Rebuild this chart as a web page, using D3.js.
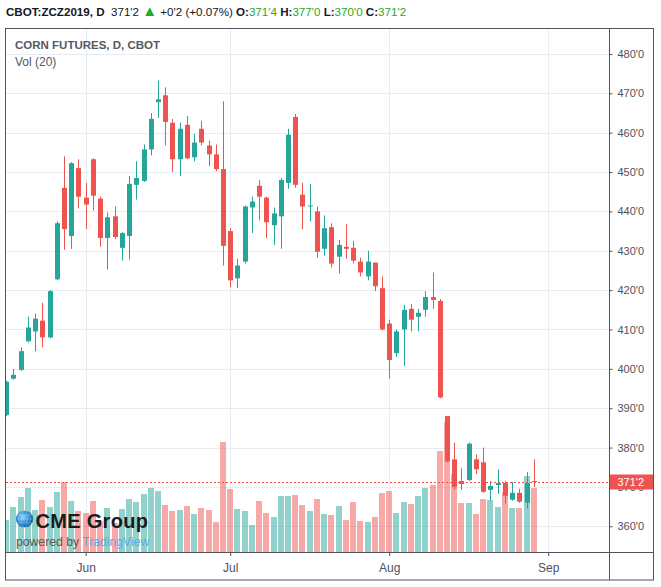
<!DOCTYPE html>
<html>
<head>
<meta charset="utf-8">
<script src="https://cdn.jsdelivr.net/npm/d3@7"></script>
<style>
  body { margin: 0; background: #fff; }
  svg text { font-family: "Liberation Sans", Arial, sans-serif; }
</style>
</head>
<body>
<script>
// trading days shown (CBOT corn Dec 2019, daily)
var dates = [
  "2019-05-16","2019-05-17","2019-05-20","2019-05-21","2019-05-22","2019-05-23","2019-05-24",
  "2019-05-28","2019-05-29","2019-05-30","2019-05-31",
  "2019-06-03","2019-06-04","2019-06-05","2019-06-06","2019-06-07","2019-06-10","2019-06-11",
  "2019-06-12","2019-06-13","2019-06-14","2019-06-17","2019-06-18","2019-06-19","2019-06-20",
  "2019-06-21","2019-06-24","2019-06-25","2019-06-26","2019-06-27","2019-06-28",
  "2019-07-01","2019-07-02","2019-07-03","2019-07-05","2019-07-08","2019-07-09","2019-07-10",
  "2019-07-11","2019-07-12","2019-07-15","2019-07-16","2019-07-17","2019-07-18","2019-07-19",
  "2019-07-22","2019-07-23","2019-07-24","2019-07-25","2019-07-26","2019-07-29","2019-07-30",
  "2019-07-31",
  "2019-08-01","2019-08-02","2019-08-05","2019-08-06","2019-08-07","2019-08-08","2019-08-09",
  "2019-08-12","2019-08-13","2019-08-14","2019-08-15","2019-08-16","2019-08-19","2019-08-20",
  "2019-08-21","2019-08-22","2019-08-23","2019-08-26","2019-08-27","2019-08-28","2019-08-29"
];
// empty slots to the right of the last bar
var futureDates = ["2019-08-30","2019-09-03"];

var open = [388.25,397.5,399.75,407,409.5,412.25,408,422.75,446,433.75,451,443.5,453.25,443.25,
  433.25,438.75,430.75,433.75,446.75,447.75,455.75,467.75,469.5,462.5,453.25,462,453.75,461,
  456.75,454.5,450.75,435,423,427.25,441,446.5,443.5,436.5,438.75,447.25,464,444.25,441.25,440,
  430.5,436,428.5,431,430.75,427.25,423.5,427,420.5,411.5,404,410,415.25,413.25,415,418.25,
  417.25,388,377,371.5,371.75,377,376.25,369.25,370.5,371,366.75,368.5,366,371.5];
var high = [397,400,405.5,413.25,414,416.75,420,437.5,454,452.5,453.25,447.25,453.5,443.75,
  439.75,441.25,434.75,449,452.75,457,465,473.25,471.5,463.5,462.5,464.25,459.75,463,458,457,
  468,435.75,428,441.5,443.75,448,443.75,441,448.5,461,464.75,447.25,447,441.25,439,437,432.75,
  436.75,432.5,428.25,430,427,423.5,412.5,410,416.25,416.5,415.25,419.75,424.5,417.75,388,
  381.25,374.75,381.25,378.25,380,371.5,374.5,371.5,371.25,369.5,373.75,377];
var low = [388,397.25,399.5,406.75,404.5,405.5,407.75,422.5,430.25,430.5,440.75,435.5,440.25,431,
  425.25,433,427.5,427.75,443,447.5,454.25,463.75,456.75,450,449,453.25,452.75,456.75,451.5,
  450.25,426.25,420.75,420.5,426.75,434.5,437.75,433.25,431.5,430.5,445.75,446,435.5,437.5,
  428.25,428.75,425.75,424.25,428,426.75,423.5,422.5,419.75,409.75,397.5,403,400.75,409.5,
  409.5,413.25,415.25,392.5,376.25,369.25,369.25,371.5,373.25,368.5,366.5,368.25,365.75,366.5,
  366,364.5,370];
var close = [396.75,398.5,404.5,410.5,412.75,408,419.75,437,435.5,452.25,443.75,441.75,444,433.25,
  438.5,433.5,434.5,447,448.5,455.75,463.5,468.5,462.75,453.25,461,453.5,457.5,457.5,454.5,
  450.75,431.25,422.5,426.25,441.25,442.5,443.75,437.25,439.5,448,459.5,446.75,441.25,441.5,
  429.75,435.75,426.75,431.5,430.5,427.5,424.5,427.25,421,410,402.25,409.5,415,412.5,414.25,
  418.25,417.5,392.75,376.5,370,370.75,381,374.5,368.75,370.25,371,367.75,368.5,366.25,371,
  371.25];
// volume, thousand contracts
var volume = [96,135,165,192,126,156,135,180,210,153,123,117,153,93,132,87,129,159,150,174,192,
  183,141,123,126,138,114,132,126,90,330,189,129,123,81,153,117,105,168,168,171,141,123,159,114,
  111,138,96,150,93,90,105,177,183,117,150,144,168,192,201,303,390,234,147,147,114,159,156,135,
  180,132,132,228,192];

var monthLabels = ["Jun", "Jul", "Aug", "Sep"];
var monthDates = ["2019-06-03", "2019-07-01", "2019-08-01", "2019-09-03"];
var priceTicks = [360, 370, 380, 390, 400, 410, 420, 430, 440, 450, 460, 470, 480];
var lastPrice = 371.25;

var upColor = "#26a69a", downColor = "#ef5350";
var textColor = "#4c525e", frameColor = "#50535e", gridColor = "#e6edf3";

var width = 661, height = 587;
var plot = {left: 6, top: 28, right: 609.5, bottom: 552};
var frame = {right: 654, bottom: 580};

var allDates = dates.concat(futureDates);

function fmt(v) {
  var whole = Math.floor(v);
  return whole + "'" + Math.round((v - whole) * 8);
}

var svg = d3.select("body").append("svg")
    .attr("width", width)
    .attr("height", height);

// first bar centre and the Sep 3 slot fix the bar spacing
var x = d3.scaleLinear()
    .domain([0, allDates.indexOf("2019-09-03")])
    .range([6.2, 548.2]);

var y = d3.scaleLinear()
    .domain([353.47, 486.6])
    .range([plot.bottom, plot.top]);

var yVol = d3.scaleLinear()
    .domain([0, d3.max(volume)])
    .range([plot.bottom, plot.bottom - (plot.bottom - plot.top) * 0.248]);

var defs = svg.append("defs");
defs.append("clipPath").attr("id", "plotclip")
  .append("rect")
    .attr("x", plot.left).attr("y", plot.top)
    .attr("width", plot.right - plot.left).attr("height", plot.bottom - plot.top);

var grad = defs.append("radialGradient").attr("id", "globe")
    .attr("cx", "40%").attr("cy", "40%").attr("r", "65%");
grad.append("stop").attr("offset", "0%").attr("stop-color", "#8fd6f7");
grad.append("stop").attr("offset", "55%").attr("stop-color", "#2a8fd6");
grad.append("stop").attr("offset", "100%").attr("stop-color", "#0b4f9c");

// grid
var grid = svg.append("g");
grid.selectAll(".hgrid")
    .data(priceTicks)
  .enter().append("line")
    .attr("x1", plot.left).attr("x2", plot.right)
    .attr("y1", function(d) { return Math.round(y(d)) + 0.5; })
    .attr("y2", function(d) { return Math.round(y(d)) + 0.5; })
    .attr("stroke", gridColor);

var monthIdx = monthDates.map(function(d) { return allDates.indexOf(d); });
grid.selectAll(".vgrid")
    .data(monthIdx)
  .enter().append("line")
    .attr("x1", function(d) { return Math.round(x(d)) + 0.5; })
    .attr("x2", function(d) { return Math.round(x(d)) + 0.5; })
    .attr("y1", plot.top).attr("y2", plot.bottom)
    .attr("stroke", gridColor);

var bars = dates.map(function(d, i) {
  return {i: i, o: open[i], h: high[i], l: low[i], c: close[i], v: volume[i]};
});

var g = svg.append("g").attr("clip-path", "url(#plotclip)");

// volume
g.selectAll(".vol")
    .data(bars)
  .enter().append("rect")
    .attr("class", "vol")
    .attr("x", function(d) { return Math.round(x(d.i)) - 3; })
    .attr("width", 6)
    .attr("y", function(d) { return Math.round(yVol(d.v)); })
    .attr("height", function(d) { return plot.bottom - Math.round(yVol(d.v)); })
    .attr("fill", function(d) { return d.c >= d.o ? upColor : downColor; })
    .attr("fill-opacity", 0.5)
    .attr("shape-rendering", "crispEdges");

// logo
var logo = svg.append("g");
logo.append("circle").attr("cx", 24.5).attr("cy", 519).attr("r", 8.6).attr("fill", "url(#globe)");
[3, 6].forEach(function(rx) {
  logo.append("ellipse").attr("cx", 24.5).attr("cy", 519).attr("rx", rx).attr("ry", 8.6)
    .attr("fill", "none").attr("stroke", "#fff").attr("stroke-opacity", 0.35).attr("stroke-width", 0.6);
});
[-4, 0, 4].forEach(function(dy) {
  logo.append("line").attr("x1", 16.5).attr("x2", 32.5).attr("y1", 519 + dy).attr("y2", 519 + dy)
    .attr("stroke", "#fff").attr("stroke-opacity", 0.35).attr("stroke-width", 0.6);
});
logo.append("text").attr("x", 35.5).attr("y", 527.5)
    .attr("font-size", "20px").attr("font-weight", "bold").attr("fill", "#1c1c1c")
    .attr("letter-spacing", "0.3px")
    .text("CME Group");
var pw = logo.append("text").attr("x", 16).attr("y", 546).attr("font-size", "12.2px");
pw.append("tspan").attr("fill", "#555").text("powered by ");
pw.append("tspan").attr("fill", "#5ba8e8").text("TradingView");

// candles
var candle = g.selectAll(".candle")
    .data(bars)
  .enter().append("g")
    .attr("fill", function(d) { return d.c >= d.o ? upColor : downColor; });

candle.append("rect")
    .attr("x", function(d) { return Math.round(x(d.i)); })
    .attr("width", 1)
    .attr("y", function(d) { return y(d.h); })
    .attr("height", function(d) { return Math.max(1, y(d.l) - y(d.h)); });

candle.append("rect")
    .attr("x", function(d) { return Math.round(x(d.i)) - 2; })
    .attr("width", 5)
    .attr("y", function(d) { return y(Math.max(d.o, d.c)); })
    .attr("height", function(d) { return Math.max(1, Math.abs(y(d.o) - y(d.c))); });

// last price line
svg.append("line")
    .attr("x1", plot.left).attr("x2", plot.right)
    .attr("y1", Math.round(y(lastPrice)) + 0.5).attr("y2", Math.round(y(lastPrice)) + 0.5)
    .attr("stroke", downColor).attr("stroke-dasharray", "2,2");

// axes
var yAxis = svg.append("g")
    .attr("transform", "translate(" + plot.right + ",0)")
    .call(d3.axisRight(y).tickValues(priceTicks).tickSize(3).tickPadding(5).tickFormat(fmt));
yAxis.select(".domain").remove();
yAxis.selectAll(".tick line").attr("stroke", textColor);
yAxis.selectAll("text").attr("fill", textColor).attr("font-size", "11px")
    .attr("font-family", "'Liberation Sans', Arial, sans-serif");

var xAxis = svg.append("g")
    .attr("transform", "translate(0," + plot.bottom + ")")
    .call(d3.axisBottom(x).tickValues(monthIdx).tickSize(4).tickPadding(7)
      .tickFormat(function(d, i) { return monthLabels[i]; }));
xAxis.select(".domain").remove();
xAxis.selectAll(".tick line").attr("stroke", textColor);
xAxis.selectAll("text").attr("fill", textColor).attr("font-size", "12px")
    .attr("font-family", "'Liberation Sans', Arial, sans-serif");

// last price label
svg.append("rect")
    .attr("x", plot.right).attr("y", Math.round(y(lastPrice)) - 7.5)
    .attr("width", frame.right - plot.right).attr("height", 15)
    .attr("fill", downColor);
svg.append("text")
    .attr("x", plot.right + 8).attr("y", y(lastPrice)).attr("dy", "0.35em")
    .attr("font-size", "11px").attr("fill", "#fff")
    .text(fmt(lastPrice));

// frame
var fr = svg.append("g").attr("stroke", frameColor).attr("fill", "none");
fr.append("rect").attr("x", plot.left - 0.5).attr("y", plot.top + 0.5)
    .attr("width", frame.right - plot.left).attr("height", frame.bottom - plot.top - 0.5);
fr.append("line").attr("x1", plot.right).attr("x2", plot.right).attr("y1", plot.top).attr("y2", frame.bottom);
fr.append("line").attr("x1", plot.left).attr("x2", frame.right).attr("y1", plot.bottom + 0.5).attr("y2", plot.bottom + 0.5);

// titles
svg.append("text").attr("x", 15).attr("y", 49)
    .attr("font-size", "11.5px").attr("font-weight", "bold").attr("fill", "#555961")
    .text("CORN FUTURES, D, CBOT");
svg.append("text").attr("x", 15).attr("y", 66)
    .attr("font-size", "12px").attr("fill", "#555961")
    .text("Vol (20)");

// header line
var green = "#27a827";
var hd = svg.append("text").attr("x", 6).attr("y", 16).attr("font-size", "11.6px").attr("fill", "#131722");
hd.append("tspan").attr("font-weight", "bold").text("CBOT:ZCZ2019, D");
hd.append("tspan").text("\u00a0 " + fmt(close[close.length - 1]) + " ");
hd.append("tspan").attr("fill", green).attr("font-size", "15px").text("\u25b2");
hd.append("tspan").text(" +0'2 (+0.07%) ");
var ohlc = [["O:", open], ["H:", high], ["L:", low], ["C:", close]];
ohlc.forEach(function(p, k) {
  var arr = p[1];
  hd.append("tspan").attr("font-weight", "bold").text((k ? " " : "") + p[0]);
  hd.append("tspan").attr("fill", green).text(fmt(arr[arr.length - 1]));
});
</script>
</body>
</html>
